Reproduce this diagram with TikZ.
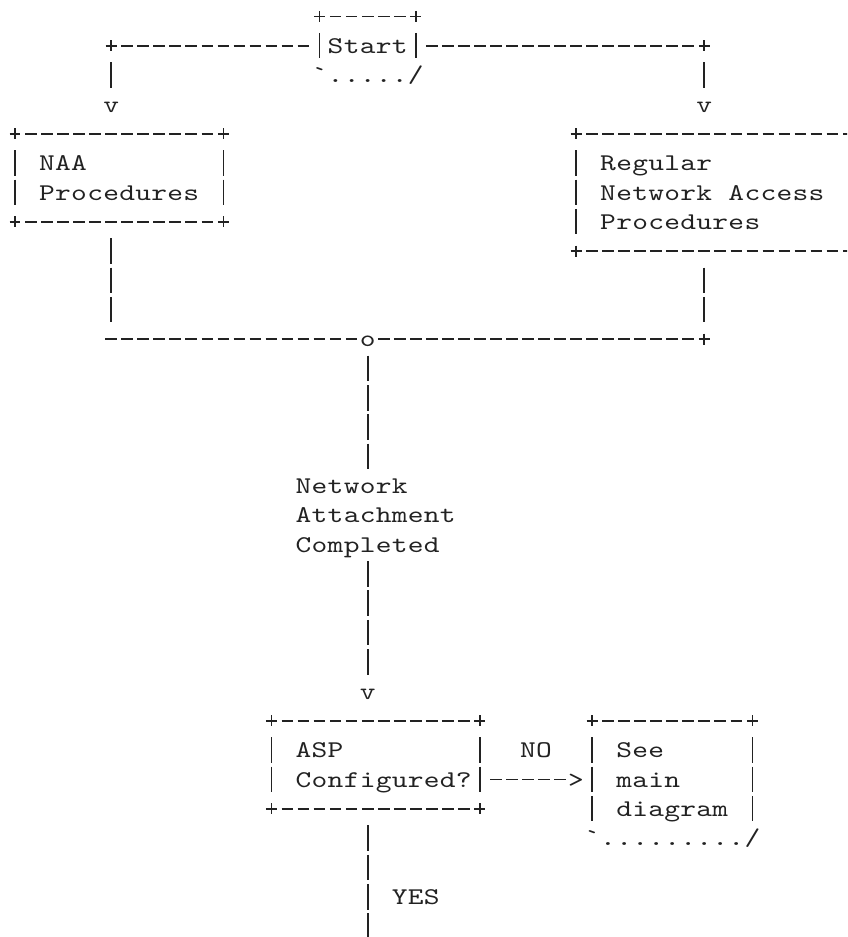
\documentclass[tikz,border=0pt]{standalone}
\usepackage{fontspec}
\setmonofont{lmmono10-regular.otf}[FakeStretch=1.25]
\definecolor{ink}{HTML}{222222}
\tikzset{
  glyph/.style={font=\ttfamily\fontsize{18}{18}\selectfont, text=ink, inner sep=0pt, anchor=base},
  stroke/.style={draw=ink, line width=1.3pt},
}
% one '-' per cell, one '|' per line, '+' as a small cross
\newcommand\dashrun[3]{\foreach \cc in {#1,...,#2} {\draw[stroke] (\cc-0.365,#3-0.26) -- (\cc+0.365,#3-0.26);}}
\newcommand\barrun[3]{\foreach \rr in {#2,...,#3} {\draw[stroke] (#1,\rr-0.70) -- (#1,\rr+0.17);}}
\newcommand\corner[2]{\draw[stroke] (#1-0.343,#2-0.26) -- (#1+0.343,#2-0.26) (#1,#2-0.447) -- (#1,#2-0.073);}
\makeatletter
\newcount\glyphcol
\newcommand\spell[4]{% name, first column, row, word
  \glyphcol=#2\relax
  \@tfor\glyphchar:=#4\do{%
    \node[glyph] (#1\the\glyphcol) at (\the\glyphcol,#3) {\glyphchar};%
    \advance\glyphcol by 1\relax}}
\makeatother
\begin{document}
\begin{tikzpicture}[x=12.0225pt, y=-22.0125pt]
\useasboundingbox (-0.9357,-0.8177) rectangle (51.903,31.107);
\clip (-0.9357,-0.8177) rectangle (51.903,31.107);
% start box
\corner{19}{0}\dashrun{20}{24}{0}\corner{25}{0}
\barrun{19}{1}{1}\spell{start}{20}{1}{Start}\barrun{25}{1}{1}
\spell{startfoot}{19}{2}{`...../}
% both branches
\corner{6}{1}\dashrun{7}{18}{1}
\dashrun{26}{42}{1}\corner{43}{1}
\barrun{6}{2}{2}\barrun{43}{2}{2}
\node[glyph] (naain) at (6,3) {v};
\node[glyph] (regin) at (43,3) {v};
% NAA box
\corner{0}{4}\dashrun{1}{12}{4}\corner{13}{4}
\barrun{0}{5}{6}\barrun{13}{5}{6}
\spell{naa}{2}{5}{NAA}
\spell{naaproc}{2}{6}{Procedures}
\corner{0}{7}\dashrun{1}{12}{7}\corner{13}{7}
% regular access box
\corner{35}{4}\dashrun{36}{51}{4}\corner{52}{4}
\barrun{35}{5}{7}\barrun{52}{5}{7}
\spell{reg}{37}{5}{Regular}
\spell{regnet}{37}{6}{Network}\spell{regacc}{45}{6}{Access}
\spell{regproc}{37}{7}{Procedures}
\corner{35}{8}\dashrun{36}{51}{8}\corner{52}{8}
% merge
\barrun{6}{8}{10}\barrun{43}{9}{10}
\dashrun{6}{21}{11}
\node[glyph] (merge) at (22,11) {o};
\dashrun{23}{42}{11}\corner{43}{11}
\barrun{22}{12}{15}
\spell{attnet}{18}{16}{Network}
\spell{attatt}{18}{17}{Attachment}
\spell{attdone}{18}{18}{Completed}
\barrun{22}{19}{22}
\node[glyph] (aspin) at (22,23) {v};
% ASP box
\corner{16}{24}\dashrun{17}{28}{24}\corner{29}{24}
\barrun{16}{25}{26}\barrun{29}{25}{26}
\spell{asp}{18}{25}{ASP}
\spell{aspconf}{18}{26}{Configured?}
\corner{16}{27}\dashrun{17}{28}{27}\corner{29}{27}
% NO
\spell{no}{32}{25}{NO}
\dashrun{30}{34}{26}
\node[glyph] (seein) at (35,26) {>};
% see box
\corner{36}{24}\dashrun{37}{45}{24}\corner{46}{24}
\barrun{36}{25}{27}\barrun{46}{25}{27}
\spell{see}{38}{25}{See}
\spell{seemain}{38}{26}{main}
\spell{seediag}{38}{27}{diagram}
\spell{seefoot}{36}{28}{`........./}
% YES
\barrun{22}{28}{31}
\spell{yes}{24}{30}{YES}
\end{tikzpicture}
\end{document}
